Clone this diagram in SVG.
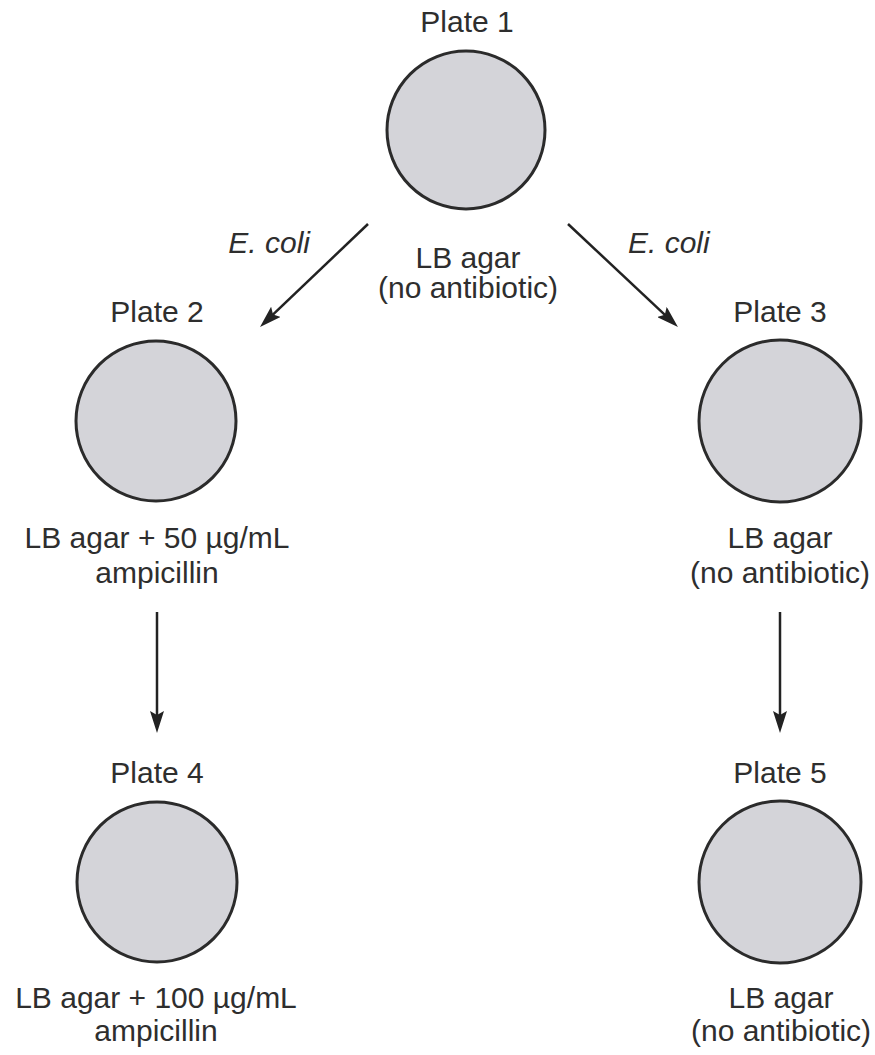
<svg xmlns="http://www.w3.org/2000/svg" width="875" height="1055" viewBox="0 0 875 1055">
  <style>
    .plate { fill: #d4d4d9; stroke: #2b2b2b; stroke-width: 3; }
    .lbl { font-family: "Liberation Sans", Arial, Helvetica, sans-serif; font-size: 30px; fill: #2e2e2e; text-anchor: middle; }
    .org { font-family: "Liberation Sans", Arial, Helvetica, sans-serif; font-size: 30px; font-style: italic; fill: #2e2e2e; }
    .flow { stroke: #222; stroke-width: 2.5; fill: none; marker-end: url(#head); }
  </style>
  <defs>
    <marker id="head" markerUnits="userSpaceOnUse" viewBox="0 0 22 14" markerWidth="22" markerHeight="14" refX="10" refY="7" orient="auto">
      <path d="M0,0 L22,7 L0,14 L4,7 Z" fill="#222"/>
    </marker>
  </defs>

  <rect width="875" height="1055" fill="#ffffff"/>

  <!-- transfers between plates -->
  <g id="connectors">
    <line class="flow" x1="368" y1="224" x2="268.7" y2="318.7"/>
    <line class="flow" x1="568" y1="224" x2="669.2" y2="318.8"/>
    <line class="flow" x1="157" y1="612" x2="157" y2="721"/>
    <line class="flow" x1="780" y1="612" x2="780" y2="721"/>
    <text class="org" x="310" y="253" text-anchor="end">E. coli</text>
    <text class="org" x="628" y="253">E. coli</text>
  </g>

  <g id="plate1">
    <text class="lbl" x="467" y="32">Plate 1</text>
    <circle class="plate" cx="466" cy="130" r="79"/>
    <text class="lbl" x="468" y="268">LB agar</text>
    <text class="lbl" x="468" y="298">(no antibiotic)</text>
  </g>

  <g id="plate2">
    <text class="lbl" x="157" y="322">Plate 2</text>
    <circle class="plate" cx="156" cy="421" r="80"/>
    <text class="lbl" x="157" y="548">LB agar + 50 µg/mL</text>
    <text class="lbl" x="157" y="583">ampicillin</text>
  </g>

  <g id="plate3">
    <text class="lbl" x="780" y="322">Plate 3</text>
    <circle class="plate" cx="780" cy="421" r="81"/>
    <text class="lbl" x="780" y="548">LB agar</text>
    <text class="lbl" x="780" y="583">(no antibiotic)</text>
  </g>

  <g id="plate4">
    <text class="lbl" x="157" y="783">Plate 4</text>
    <circle class="plate" cx="157" cy="882" r="80"/>
    <text class="lbl" x="156" y="1008">LB agar + 100 µg/mL</text>
    <text class="lbl" x="156" y="1041">ampicillin</text>
  </g>

  <g id="plate5">
    <text class="lbl" x="780" y="783">Plate 5</text>
    <circle class="plate" cx="780" cy="882" r="81"/>
    <text class="lbl" x="781" y="1008">LB agar</text>
    <text class="lbl" x="781" y="1041">(no antibiotic)</text>
  </g>
</svg>
